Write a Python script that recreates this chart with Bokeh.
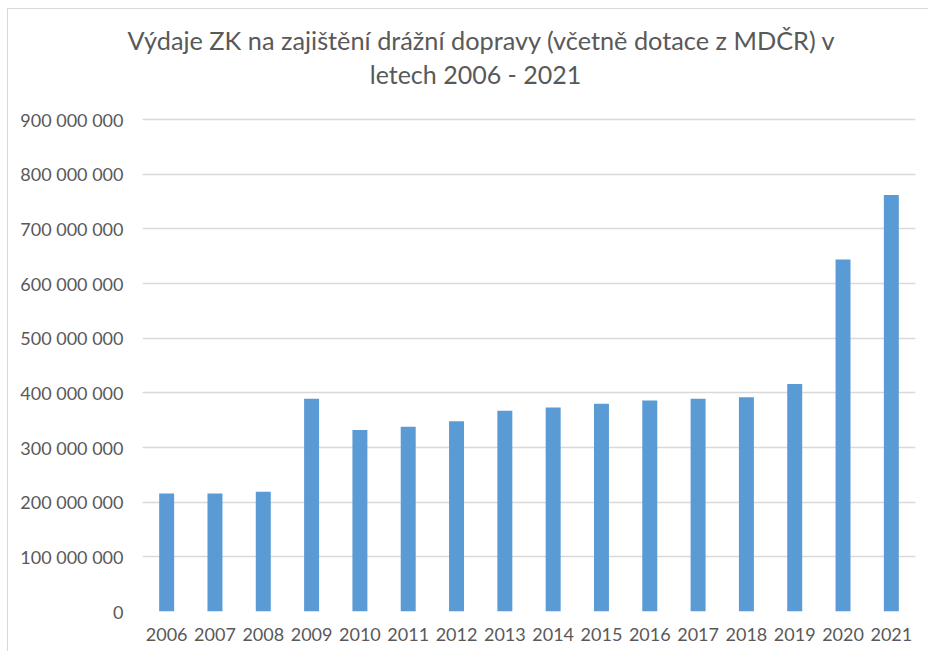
from bokeh.plotting import figure
from bokeh.models import FixedTicker, Range1d, FactorRange, Label, Title, InlineStyleSheet
from bokeh.embed import file_html
from bokeh.resources import INLINE

years = ["2006", "2007", "2008", "2009", "2010", "2011", "2012", "2013",
         "2014", "2015", "2016", "2017", "2018", "2019", "2020", "2021"]
spending = [216e6, 216e6, 219e6, 389e6, 332e6, 338e6, 348e6, 367e6,
            373e6, 380e6, 386e6, 389e6, 392e6, 416e6, 644e6, 762e6]
y_ticks = [0, 100e6, 200e6, 300e6, 400e6, 500e6, 600e6, 700e6, 800e6, 900e6]
y_tick_labels = ["0", "100 000 000", "200 000 000", "300 000 000", "400 000 000",
                 "500 000 000", "600 000 000", "700 000 000", "800 000 000", "900 000 000"]
title_lines = ["Výdaje ZK na zajištění drážní dopravy (včetně dotace z MDČR) v",
               "letech 2006 - 2021"]

FONT = "Lato"
GRAY = "#595959"

# frame also holds the second title line; value axis tops out at 900 000 000 (last tick)
TOP = 48               # px above the frame (first title line)
FRAME_H = 602 - TOP    # px, frame height
AXIS_H = 492           # px, height of the 0..900M part
y_end = 900e6 * FRAME_H / AXIS_H

p = figure(width=921, height=643, x_range=FactorRange(*years, range_padding=0),
           y_range=Range1d(0, y_end), output_backend="svg", toolbar_location=None,
           min_border_left=134, min_border_right=14, min_border_top=TOP, min_border_bottom=41)
p.stylesheets = [InlineStyleSheet(css=":host { margin-left: 7px; margin-top: 8px; "
                                      "border-left: 1px solid #d9d9d9; border-top: 1px solid #d9d9d9; }")]

# first title line above the frame
p.add_layout(Title(text=title_lines[0], align="left", offset=-15, standoff=5,
                   text_font=FONT, text_font_size="25.3px", text_font_style="normal",
                   text_color=GRAY), "above")
# second title line inside the upper, empty part of the frame
p.add_layout(Label(x=333, y=538, x_units="screen", y_units="screen", text=title_lines[1],
                   text_align="center", text_baseline="alphabetic", text_font=FONT,
                   text_font_size="25px", text_color=GRAY))

p.vbar(x=years, top=spending, width=0.31, color="#5B9BD5", line_color=None)

p.outline_line_color = None
p.xgrid.grid_line_color = None
p.ygrid.grid_line_color = "#d9d9d9"
p.ygrid.grid_line_width = 1.3

p.yaxis.ticker = FixedTicker(ticks=y_ticks)
p.yaxis.major_label_overrides = {t: l for t, l in zip(y_ticks, y_tick_labels)}
for ax in (p.xaxis, p.yaxis):
    ax.axis_line_color = None
    ax.major_tick_line_color = None
    ax.minor_tick_line_color = None
    ax.major_label_text_font = FONT
    ax.major_label_text_font_size = "18px"
    ax.major_label_text_color = GRAY
p.yaxis.major_label_standoff = 13
p.xaxis.major_label_standoff = 10

open("out.html", "w").write(file_html(p, INLINE))
